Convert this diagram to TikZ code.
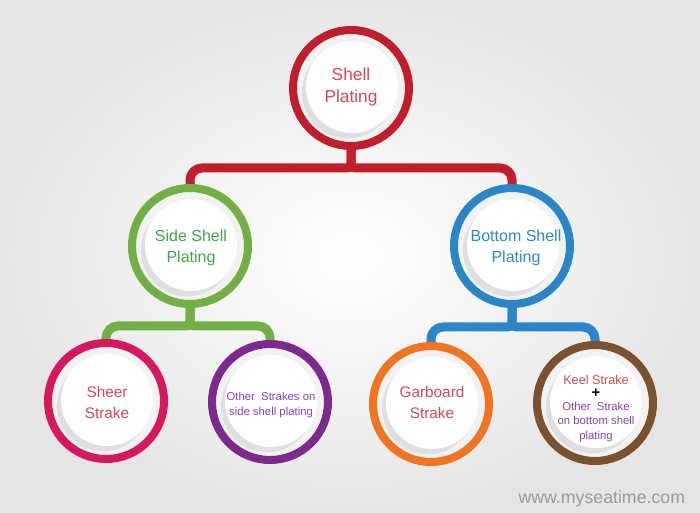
\documentclass[tikz,border=0pt]{standalone}
\usepackage{fontspec}
\setmainfont{Liberation Sans}
\usetikzlibrary{shadows,calc,backgrounds}

\definecolor{shellred}{RGB}{192,30,42}
\definecolor{sidegreen}{RGB}{114,175,68}
\definecolor{bottomblue}{RGB}{42,134,198}
\definecolor{sheercrimson}{RGB}{214,24,95}
\definecolor{otherpurple}{RGB}{125,42,142}
\definecolor{garboardorange}{RGB}{240,117,34}
\definecolor{keelbrown}{RGB}{122,82,48}
\definecolor{txtred}{RGB}{222,70,82}
\definecolor{txtgreen}{RGB}{60,170,70}
\definecolor{txtblue}{RGB}{43,138,203}
\definecolor{txtpurple}{RGB}{139,63,199}
\definecolor{sitegray}{RGB}{155,155,155}

\tikzset{every picture/.style={line width=0.75pt}}
\tikzset{
  plate/.style={circle, draw=#1, line width=6pt, fill=black!5, minimum size=87pt, inner sep=0pt,
    drop shadow={shadow xshift=-2pt, shadow yshift=-3pt, opacity=0.08}},
  disk/.style={circle, fill=white, minimum size=69pt, inner sep=0pt,
    drop shadow={shadow xshift=-3pt, shadow yshift=-4pt, opacity=0.16}},
  label/.style={align=center, inner sep=0pt},
  bigtext/.style={font=\fontsize{13}{17}\selectfont},
  midtext/.style={font=\fontsize{12}{16}\selectfont},
  strtext/.style={font=\fontsize{11.5}{15.75}\selectfont},
  smalltext/.style={font=\fontsize{8.5}{10.7}\selectfont},
  branch/.style={draw=#1, line width=6.75pt, rounded corners=9pt}
}

\begin{document}
\begin{tikzpicture}[x=0.75pt,y=0.75pt,yscale=-1,xscale=1]

\useasboundingbox (0,0) rectangle (700,513);

\node [plate=shellred] (shell) at (351,88) {};
\node [plate=sidegreen] (side) at (190,246) {};
\node [plate=bottomblue] (bottom) at (512,246) {};
\node [plate=sheercrimson] (sheer) at (106,401) {};
\node [plate=otherpurple] (others) at (270,402) {};
\node [plate=garboardorange] (garboard) at (431,404) {};
\node [plate=keelbrown] (keel) at (595,403) {};

\node [disk] (shelldisk) at (352,87) {};
\node [disk] (sidedisk) at (191,245) {};
\node [disk] (bottomdisk) at (513,245) {};
\node [disk] (sheerdisk) at (107,400) {};
\node [disk] (othersdisk) at (271,401) {};
\node [disk] (garboarddisk) at (432,403) {};
\node [disk] (keeldisk) at (596,402) {};

\node [label, bigtext, text=txtred] (shelltext) at (351,87) {Shell\\Plating};
\node [label, midtext, text=txtgreen] (sidetext) at (191,248) {Side Shell\\Plating};
\node [label, midtext, text=txtblue] (bottomtext) at (516,248) {Bottom Shell\\Plating};
\node [label, strtext, text=txtred] (sheertext) at (107,403) {Sheer\\Strake};
\node [label, smalltext, text=txtpurple] (otherstext) at (271,405) {Other\ \ Strakes on\\side shell plating};
\node [label, strtext, text=txtred] (garboardtext) at (432,403) {Garboard\\Strake};
\node [label, anchor=base, text=txtred, font=\fontsize{9.5}{11}\selectfont] (keeltext) at (596,384) {Keel Strake};
\node [label, font=\fontsize{11}{11}\selectfont\bfseries] (keelplus) at (596,393) {+};
\node [label, smalltext, text=txtpurple] (keelmore) at (596,422) {Other\ \ Strake\\on bottom shell\\plating};

\coordinate (shellsplit) at (351,168);
\coordinate (sidesplit) at (190,326);
\coordinate (bottomsplit) at (512,327);

\begin{scope}[on background layer]
\shade [inner color=white, outer color=black!10] (0,0) rectangle (700,513);

\draw [branch=shellred] (shell.center) -- (shell.south) .. controls (shellsplit) .. ($(shellsplit)+(-22,0)$) -| (side.center);
\draw [branch=shellred] (shell.center) -- (shell.south) .. controls (shellsplit) .. ($(shellsplit)+(22,0)$) -| (bottom.center);

\draw [branch=sidegreen] (side.center) -- (side.south) .. controls (sidesplit) .. ($(sidesplit)+(-22,0)$) -| (sheer.center);
\draw [branch=sidegreen] (side.center) -- (side.south) .. controls (sidesplit) .. ($(sidesplit)+(22,0)$) -| (others.center);

\draw [branch=bottomblue] (bottom.center) -- (bottom.south) .. controls (bottomsplit) .. ($(bottomsplit)+(-22,0)$) -| (garboard.center);
\draw [branch=bottomblue] (bottom.center) -- (bottom.south) .. controls (bottomsplit) .. ($(bottomsplit)+(22,0)$) -| (keel.center);
\end{scope}

\node [anchor=base east, text=sitegray, font=\fontsize{13.3}{15}\selectfont] (site) at (690,503) {www.myseatime.com};

\end{tikzpicture}
\end{document}
